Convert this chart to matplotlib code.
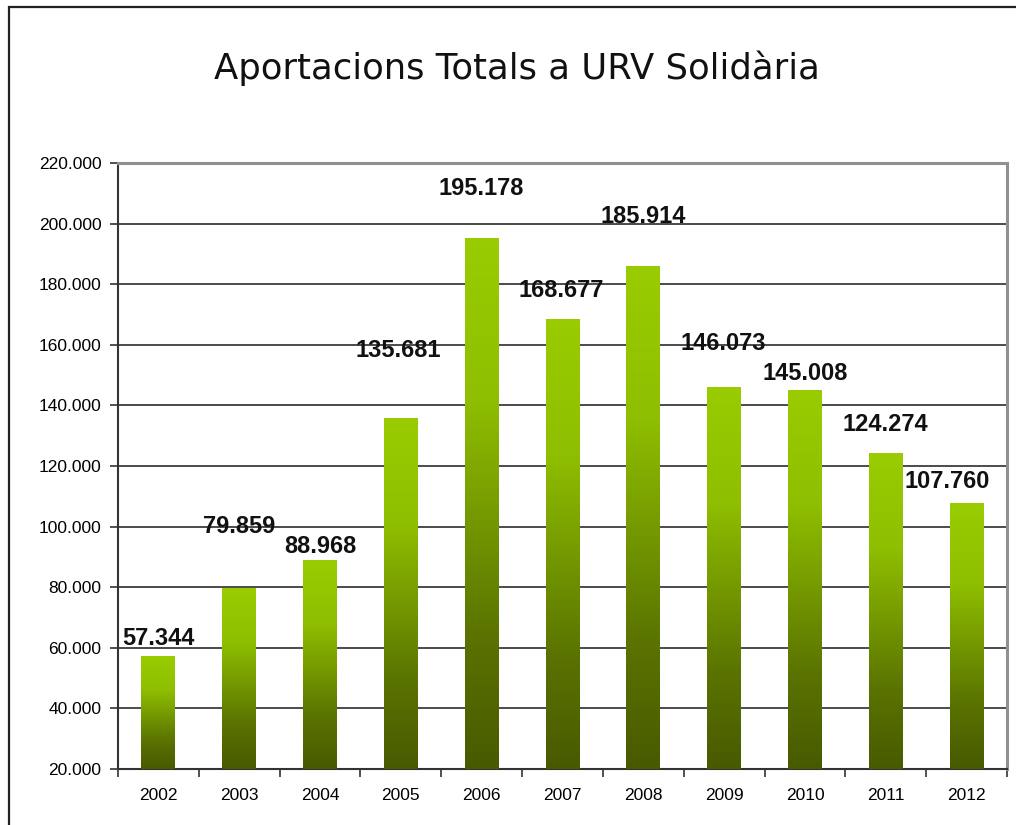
import numpy as np
import matplotlib
matplotlib.use('Agg')
import matplotlib.pyplot as plt
from matplotlib.colors import LinearSegmentedColormap
from matplotlib.patches import Rectangle
from matplotlib.ticker import FuncFormatter, FixedLocator

years = ['2002', '2003', '2004', '2005', '2006', '2007', '2008', '2009', '2010', '2011', '2012']
totals = [57344, 79859, 88968, 135681, 195178, 168677, 185914, 146073, 145008, 124274, 107760]
labels = ['57.344', '79.859', '88.968', '135.681', '195.178', '168.677', '185.914',
          '146.073', '145.008', '124.274', '107.760']

# label placement as in the original (pixel offsets from bar top)
label_dy = [17, 61, 14, 68, 50, 28, 50, 43, 17, 29, 22]
label_dx = [0, 0, 0, -3, 0, -1, 0, -1, 0, 0, -19]

plt.rcParams['font.family'] = ['Liberation Sans', 'DejaVu Sans']

fig = plt.figure(figsize=(10.16, 8.25), dpi=100)
ax = fig.add_axes([118 / 1016, 56 / 825, 889 / 1016, 606 / 825])

# outer frame of the chart
fig.patches.append(Rectangle((9 / 1016, -0.1), 1.2, 1.1 - 7 / 825, transform=fig.transFigure,
                             fill=False, edgecolor='#222222', linewidth=1.6, zorder=0))

green = LinearSegmentedColormap.from_list('grn', [(0, '#485a00'), (0.25, '#5a7300'),
                                                  (0.7, '#8fbf00'), (1, '#99cc00')])
grad = np.linspace(0, 1, 256).reshape(-1, 1)

x = np.arange(len(years))
ymin = 20000
bars = ax.bar(x, [v - ymin for v in totals], bottom=ymin, width=0.42, color='none',
              edgecolor='none', zorder=3)
for b in bars:
    x0, y0 = b.get_x(), b.get_y()
    im = ax.imshow(grad, cmap=green, origin='lower', aspect='auto', zorder=3,
                   extent=[x0, x0 + b.get_width(), y0, y0 + b.get_height()])
    im.set_clip_path(b)

for i, v in enumerate(totals):
    ax.annotate(labels[i], (x[i], v), xytext=(label_dx[i], label_dy[i]), textcoords='offset pixels',
                ha='center', va='center', fontsize=17, fontweight='bold', color='#111111')

ax.set_xlim(-0.5, len(years) - 0.5)
ax.set_ylim(20000, 220000)
ax.set_yticks(np.arange(20000, 220001, 20000))
ax.yaxis.set_major_formatter(FuncFormatter(lambda v, p: f"{v:,.0f}".replace(',', '.')))
ax.grid(axis='y', color='#1a1a1a', linewidth=1.1, zorder=1)
ax.set_axisbelow(True)

ax.xaxis.set_major_locator(FixedLocator(np.arange(-0.5, len(years), 1)))
ax.xaxis.set_minor_locator(FixedLocator(x))
ax.set_xticklabels([], minor=False)
ax.set_xticklabels(years, minor=True)
ax.tick_params(axis='x', which='major', length=6, width=1.2, color='#333333', direction='out')
ax.tick_params(axis='x', which='minor', length=0, pad=14, labelsize=12.5)
ax.tick_params(axis='y', length=6, width=1.2, color='#333333', labelsize=12.5, pad=6)

for s in ['left', 'bottom']:
    ax.spines[s].set_color('#333333')
    ax.spines[s].set_linewidth(1.5)
for s in ['top', 'right']:
    ax.spines[s].set_color('#909090')
    ax.spines[s].set_linewidth(2.2)

fig.text(517 / 1016, 1 - 68 / 825, 'Aportacions Totals a URV Solidària', ha='center', va='center',
         fontsize=25.5, family='DejaVu Sans', color='#111111')

fig.savefig('out.png', dpi=100)
